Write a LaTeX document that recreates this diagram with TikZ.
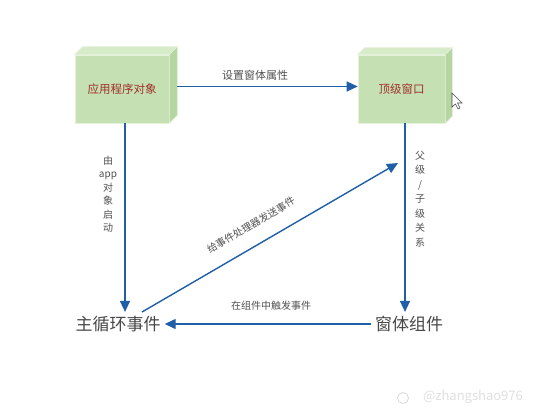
\documentclass[tikz,border=0pt]{standalone}
\usepackage{fontspec}
\setmainfont{Noto Sans CJK SC}
\usetikzlibrary{arrows.meta}
\definecolor{arrowblue}{HTML}{1F5FA8}
\definecolor{boxfront}{HTML}{C5E0B3}
\definecolor{boxtop}{HTML}{D6EBC8}
\definecolor{boxside}{HTML}{B5D6A0}
\definecolor{boxedge}{HTML}{E4F2DA}
\definecolor{boxtext}{HTML}{A0302A}
\definecolor{labelgrey}{HTML}{505050}
\tikzset{
  x=1pt, y=-1pt,
  cubebox/.style={fill=boxfront, draw=boxedge, line width=0.6pt, minimum height=68pt, inner sep=0pt,
    text=boxtext, font=\fontsize{11.5}{13}\selectfont},
  flow/.style={draw=arrowblue, line width=1.4pt, -{Triangle[length=11pt,width=10pt]}},
  lbl/.style={text=labelgrey, font=\fontsize{10}{13.5}\selectfont, inner sep=0pt},
  big/.style={text=labelgrey!90!black, font=\fontsize{17}{20}\selectfont, inner sep=4pt},
}
\newcommand{\cubefaces}[2]{%
  \fill[boxtop, draw=boxedge, line width=0.6pt] (#1.north west) -- ++(#2,-#2) -- ([xshift=#2 pt, yshift=#2 pt]#1.north east) -- (#1.north east) -- cycle;
  \fill[boxside, draw=boxedge, line width=0.6pt] (#1.north east) -- ++(#2,-#2) -- ([xshift=#2 pt, yshift=#2 pt]#1.south east) -- (#1.south east) -- cycle;
}
\begin{document}
\begin{tikzpicture}
\useasboundingbox[fill=white] (0,0) rectangle (534,415);
% boxes
\node[cubebox, minimum width=94pt] (app) at (122,89) {应用程序对象};
\cubefaces{app}{8}
\node[cubebox, minimum width=87pt] (top) at (401.5,89) {顶级窗口};
\cubefaces{top}{7}
% bottom texts
\node[big] (main) at (118,324) {主循环事件};
\node[big] (comp) at (409,324) {窗体组件};
% coordinates
\coordinate (appout) at (177,86.5);
\coordinate (diagstart) at (142,312);
\coordinate (diagend) at (398,163);
% arrows
\draw[flow] (appout) -- (top.west |- appout);
\draw[flow] ([xshift=3pt]app.south) -- ([xshift=3pt]app.south |- main.north);
\draw[flow] ([xshift=3.5pt]top.south) -- ([xshift=3.5pt]top.south |- comp.north);
\draw[flow] (comp.west) -- (main.east);
\draw[flow] (diagstart) -- (diagend);
% labels
\node[lbl] (l1) at (255,75) {\fontsize{11}{13}\selectfont 设置窗体属性};
\node[lbl, align=center] (l2) at (108,194) {由\\app\\对\\象\\启\\动};
\node[lbl, align=center, font=\fontsize{10}{14.5}\selectfont] (l3) at (420,199) {父\\级\\/\\子\\级\\关\\系};
\node[lbl] (l4) at (271,306) {在组件中触发事件};
\node[lbl, rotate=30.5] (l5) at (251,225) {给事件处理器发送事件};
% cursor
\draw[fill=white, draw=black!70, line width=0.6pt] (452,93) -- (452,107) -- (455.5,104) -- (458,109) -- (460,108) -- (457.5,103) -- (462,103) -- cycle;
% watermark
\node[text=black!12, font=\fontsize{13}{15}\selectfont, inner sep=0pt] (wm) at (473,397) {@zhangshao976};
\draw[black!15, line width=0.8pt] (403,398) circle (5.5pt);
\end{tikzpicture}
\end{document}
